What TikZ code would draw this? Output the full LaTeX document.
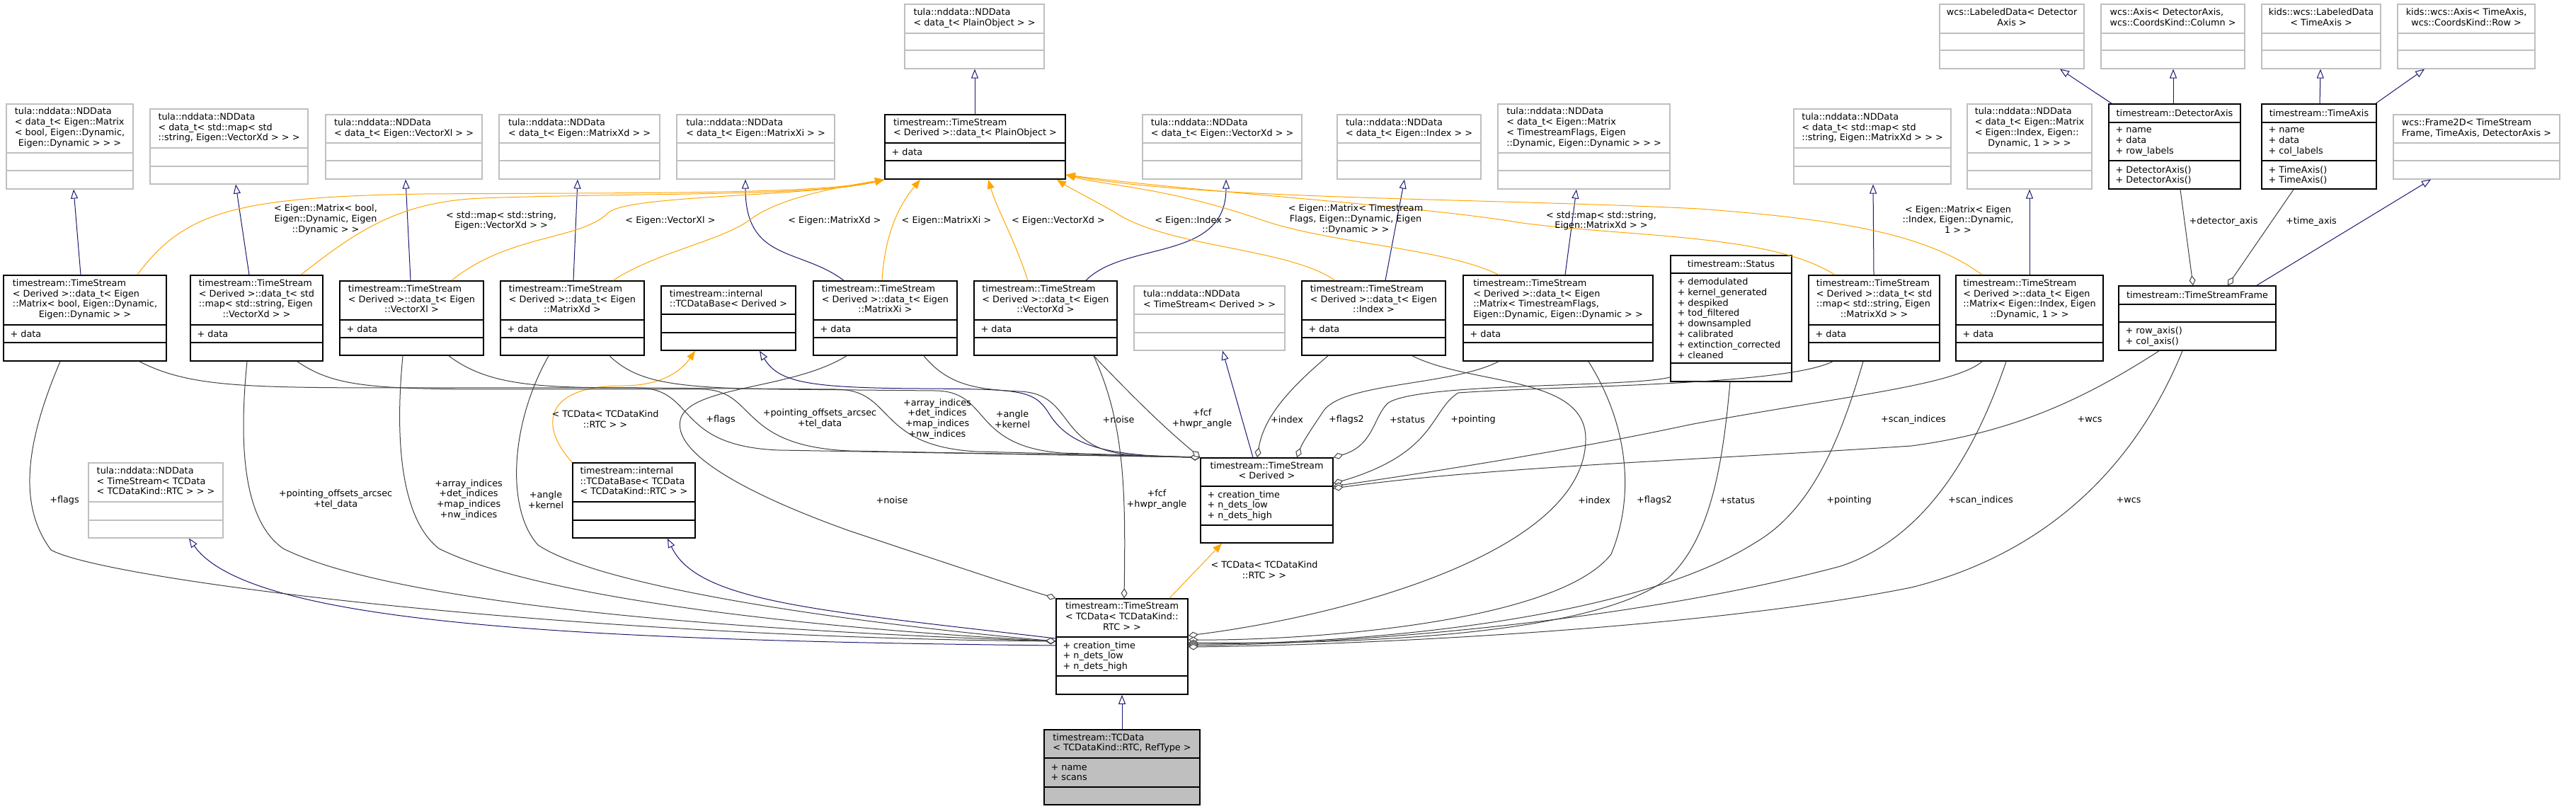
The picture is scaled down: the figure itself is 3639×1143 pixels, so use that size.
\documentclass[tikz,border=0pt]{standalone}
\usepackage{fontspec}
\setmainfont{DejaVu Sans}
\usepackage{xcolor}
\usetikzlibrary{arrows.meta, positioning, fit, calc}

\definecolor{inhblue}{HTML}{191970}
\definecolor{tplorange}{HTML}{FFA500}
\definecolor{usegray}{HTML}{404040}
\definecolor{boxgray}{HTML}{BFBFBF}

\newcommand{\dxfont}{\fontsize{6.4}{7.4}\selectfont}
\newcommand{\clsname}[2]{\begin{tabular}{@{}l@{}}#1\\\multicolumn{1}{@{}c@{}}{#2}\end{tabular}}
\newcommand{\umlclass}[8]{%
    \node[#2, fit={#3}] (#1) {};
    \draw[#2 sep] (#1.west |- 0,#4) -- (#1.east |- 0,#4);
    \draw[#2 sep] (#1.west |- 0,#5) -- (#1.east |- 0,#5);
    \node[titletext] (#1-t) at ($(#1.north)!0.5!(#1.north |- 0,#4)$) {#6};
    \node[membertext] (#1-a) at ($(#1.west |- 0,#4)!0.5!(#1.west |- 0,#5)$) {#7};
    \node[membertext] (#1-m) at ($(#1.west |- 0,#5)!0.5!(#1.south west)$) {#8};
}

\begin{document}
\begin{tikzpicture}[
        x=0.5pt, y=-0.5pt,
        font=\dxfont,
        ndbox/.style={draw=boxgray, line width=0.6pt, fill=white, inner sep=0pt},
        ndbox sep/.style={draw=boxgray, line width=0.6pt},
        clsbox/.style={draw=black, line width=0.8pt, fill=white, inner sep=0pt},
        clsbox sep/.style={draw=black, line width=0.8pt},
        hlbox/.style={clsbox, fill=boxgray},
        hlbox sep/.style={clsbox sep},
        titletext/.style={inner sep=0pt},
        membertext/.style={anchor=west, inner sep=0pt, align=left, xshift=5pt},
        edgelabel/.style={inner sep=0pt, align=center},
        inherit/.style={draw=inhblue, line width=0.5pt,
            -{Triangle[length=6.5pt, width=5pt, fill=white]}},
        templ/.style={draw=tplorange, line width=0.5pt,
            -{Triangle[length=6.5pt, width=5pt, fill=tplorange]}},
        usage/.style={draw=usegray, line width=0.5pt,
            -{Diamond[length=7pt, width=4.5pt, fill=white]}},
    ]

    \fill[white] (0,0) rectangle (3639,1143);
    \useasboundingbox (0,0) rectangle (3639,1143);

    % 1. Top row: external bases
    \umlclass{plainnd}{ndbox}{(1278,6) (1475,97)}{47}{71}
        {\clsname{tula::nddata::NDData}{< data\_t< PlainObject > >}}{}{}
    \umlclass{wcsld}{ndbox}{(2740,6) (2944,97)}{47}{71}
        {\clsname{wcs::LabeledData< Detector}{Axis >}}{}{}
    \umlclass{wcsax}{ndbox}{(2968,6) (3171,97)}{47}{71}
        {\clsname{wcs::Axis< DetectorAxis,}{wcs::CoordsKind::Column >}}{}{}
    \umlclass{kidsld}{ndbox}{(3195,6) (3363,97)}{47}{71}
        {\clsname{kids::wcs::LabeledData}{< TimeAxis >}}{}{}
    \umlclass{kidsax}{ndbox}{(3387,6) (3581,97)}{47}{71}
        {\clsname{kids::wcs::Axis< TimeAxis,}{wcs::CoordsKind::Row >}}{}{}

    % 2. NDData bases of the data_t holders
    \umlclass{ndbool}{ndbox}{(9,147) (188,267)}{216}{241}
        {\clsname{tula::nddata::NDData\\< data\_t< Eigen::Matrix\\< bool, Eigen::Dynamic,}{Eigen::Dynamic > > >}}{}{}
    \umlclass{ndmapvd}{ndbox}{(212,154) (435,260)}{209}{235}
        {\clsname{tula::nddata::NDData\\< data\_t< std::map< std}{::string, Eigen::VectorXd > > >}}{}{}
    \umlclass{ndvl}{ndbox}{(460,162) (681,253)}{202}{227}
        {\clsname{tula::nddata::NDData}{< data\_t< Eigen::VectorXl > >}}{}{}
    \umlclass{ndmd}{ndbox}{(705,162) (932,253)}{202}{227}
        {\clsname{tula::nddata::NDData}{< data\_t< Eigen::MatrixXd > >}}{}{}
    \umlclass{ndmi}{ndbox}{(956,162) (1179,253)}{202}{227}
        {\clsname{tula::nddata::NDData}{< data\_t< Eigen::MatrixXi > >}}{}{}
    \umlclass{tsplain}{clsbox}{(1250,162) (1505,253)}{202}{227}
        {\clsname{timestream::TimeStream}{< Derived >::data\_t< PlainObject >}}{+ data}{}
    \umlclass{ndvd}{ndbox}{(1614,162) (1839,253)}{202}{227}
        {\clsname{tula::nddata::NDData}{< data\_t< Eigen::VectorXd > >}}{}{}
    \umlclass{ndidx}{ndbox}{(1889,162) (2092,253)}{202}{227}
        {\clsname{tula::nddata::NDData}{< data\_t< Eigen::Index > >}}{}{}
    \umlclass{ndflags}{ndbox}{(2116,147) (2359,267)}{216}{241}
        {\clsname{tula::nddata::NDData\\< data\_t< Eigen::Matrix\\< TimestreamFlags, Eigen}{::Dynamic, Eigen::Dynamic > > >}}{}{}
    \umlclass{ndmapmd}{ndbox}{(2534,154) (2756,260)}{209}{235}
        {\clsname{tula::nddata::NDData\\< data\_t< std::map< std}{::string, Eigen::MatrixXd > > >}}{}{}
    \umlclass{ndidx1}{ndbox}{(2779,147) (2955,267)}{216}{241}
        {\clsname{tula::nddata::NDData\\< data\_t< Eigen::Matrix\\< Eigen::Index, Eigen::}{Dynamic, 1 > > >}}{}{}
    \umlclass{detaxis}{clsbox}{(2979,147) (3165,267)}{173}{227}
        {timestream::DetectorAxis}{+ name\\+ data\\+ row\_labels}{+ DetectorAxis()\\+ DetectorAxis()}
    \umlclass{timeaxis}{clsbox}{(3195,147) (3357,267)}{173}{227}
        {timestream::TimeAxis}{+ name\\+ data\\+ col\_labels}{+ TimeAxis()\\+ TimeAxis()}
    \umlclass{wcsframe}{ndbox}{(3381,162) (3616,253)}{202}{227}
        {\clsname{wcs::Frame2D< TimeStream}{Frame, TimeAxis, DetectorAxis >}}{}{}

    % 3. Member types
    \umlclass{tsbool}{clsbox}{(5,389) (235,510)}{459}{484}
        {\clsname{timestream::TimeStream\\< Derived >::data\_t< Eigen\\::Matrix< bool, Eigen::Dynamic,}{Eigen::Dynamic > >}}{+ data}{}
    \umlclass{tsmapvd}{clsbox}{(269,389) (456,510)}{459}{484}
        {\clsname{timestream::TimeStream\\< Derived >::data\_t< std\\::map< std::string, Eigen}{::VectorXd > >}}{+ data}{}
    \umlclass{tsvl}{clsbox}{(480,397) (683,502)}{452}{477}
        {\clsname{timestream::TimeStream\\< Derived >::data\_t< Eigen}{::VectorXl >}}{+ data}{}
    \umlclass{tsmd}{clsbox}{(707,397) (910,502)}{452}{477}
        {\clsname{timestream::TimeStream\\< Derived >::data\_t< Eigen}{::MatrixXd >}}{+ data}{}
    \umlclass{tcbase}{clsbox}{(934,404) (1124,495)}{444}{470}
        {\clsname{timestream::internal}{::TCDataBase< Derived >}}{}{}
    \umlclass{tsmi}{clsbox}{(1149,397) (1352,502)}{452}{477}
        {\clsname{timestream::TimeStream\\< Derived >::data\_t< Eigen}{::MatrixXi >}}{+ data}{}
    \umlclass{tsvd}{clsbox}{(1376,397) (1578,502)}{452}{477}
        {\clsname{timestream::TimeStream\\< Derived >::data\_t< Eigen}{::VectorXd >}}{+ data}{}
    \umlclass{ndtsd}{ndbox}{(1602,404) (1815,495)}{444}{470}
        {\clsname{tula::nddata::NDData}{< TimeStream< Derived > >}}{}{}
    \umlclass{tsidx}{clsbox}{(1839,397) (2042,502)}{452}{477}
        {\clsname{timestream::TimeStream\\< Derived >::data\_t< Eigen}{::Index >}}{+ data}{}
    \umlclass{tsflags}{clsbox}{(2067,389) (2335,510)}{459}{484}
        {\clsname{timestream::TimeStream\\< Derived >::data\_t< Eigen\\::Matrix< TimestreamFlags,}{Eigen::Dynamic, Eigen::Dynamic > >}}{+ data}{}
    \umlclass{status}{clsbox}{(2360,361) (2531,539)}{386}{513}
        {timestream::Status}{+ demodulated\\+ kernel\_generated\\+ despiked\\+ tod\_filtered\\+ downsampled\\+ calibrated\\+ extinction\_corrected\\+ cleaned}{}
    \umlclass{tsmapmd}{clsbox}{(2555,389) (2740,510)}{459}{484}
        {\clsname{timestream::TimeStream\\< Derived >::data\_t< std\\::map< std::string, Eigen}{::MatrixXd > >}}{+ data}{}
    \umlclass{tsidx1}{clsbox}{(2763,389) (2971,510)}{459}{484}
        {\clsname{timestream::TimeStream\\< Derived >::data\_t< Eigen\\::Matrix< Eigen::Index, Eigen}{::Dynamic, 1 > >}}{+ data}{}
    \umlclass{tsframe}{clsbox}{(2993,404) (3215,495)}{430}{455}
        {timestream::TimeStreamFrame}{}{+ row\_axis()\\+ col\_axis()}

    % 4. TimeStream classes
    \umlclass{ndtstc}{ndbox}{(125,654) (315,760)}{709}{735}
        {\clsname{tula::nddata::NDData\\< TimeStream< TCData}{< TCDataKind::RTC > > >}}{}{}
    \umlclass{tcbasetc}{clsbox}{(809,654) (982,760)}{709}{735}
        {\clsname{timestream::internal\\::TCDataBase< TCData}{< TCDataKind::RTC > >}}{}{}
    \umlclass{tsderived}{clsbox}{(1696,647) (1883,767)}{687}{742}
        {\clsname{timestream::TimeStream}{< Derived >}}{+ creation\_time\\+ n\_dets\_low\\+ n\_dets\_high}{}
    \umlclass{tstc}{clsbox}{(1492,846) (1678,981)}{900}{955}
        {\clsname{timestream::TimeStream\\< TCData< TCDataKind::}{RTC > >}}{+ creation\_time\\+ n\_dets\_low\\+ n\_dets\_high}{}
    \umlclass{tcdata}{hlbox}{(1475,1031) (1695,1137)}{1071}{1112}
        {\clsname{timestream::TCData}{< TCDataKind::RTC, RefType >}}{+ name\\+ scans}{}

    % --- Inheritance ---
    \draw[inherit] (tsplain.north -| 1377,0) -- (plainnd.south -| 1377,0);
    \draw[inherit] (tsbool.north -| 114,0) -- (ndbool.south -| 104,0);
    \draw[inherit] (tsmapvd.north -| 352,0) -- (ndmapvd.south -| 333,0);
    \draw[inherit] (tsvl.north -| 580,0) -- (ndvl.south -| 573,0);
    \draw[inherit] (tsmd.north -| 810,0) -- (ndmd.south -| 816,0);
    \draw[inherit] (tsmi.north -| 1192,0) .. controls (1130,350) and (1053,370) .. (ndmi.south -| 1053,0);
    \draw[inherit] (tsvd.north -| 1534,0) .. controls (1590,340) and (1732,370) .. (ndvd.south -| 1732,0);
    \draw[inherit] (tsidx.north -| 1957,0) -- (ndidx.south -| 1984,0);
    \draw[inherit] (tsflags.north -| 2211,0) -- (ndflags.south -| 2227,0);
    \draw[inherit] (tsmapmd.north -| 2647,0) -- (ndmapmd.south -| 2646,0);
    \draw[inherit] (tsidx1.north -| 2867,0) -- (ndidx1.south -| 2867,0);
    \draw[inherit] (detaxis.north -| 2983,0) -- (wcsld.south -| 2910,0);
    \draw[inherit] (detaxis.north -| 3070,0) -- (wcsax.south -| 3070,0);
    \draw[inherit] (timeaxis.north -| 3277,0) -- (kidsld.south -| 3278,0);
    \draw[inherit] (timeaxis.north -| 3356,0) -- (kidsax.south -| 3425,0);
    \draw[inherit] (tsframe.north -| 3188,0) -- (wcsframe.south -| 3434,0);
    \draw[inherit] (tsderived.north -| 1770,0) -- (ndtsd.south -| 1727,0);
    \draw[inherit] (tsderived.north west) .. controls (1560,645) and (1510,630) .. (1481,583)
        .. controls (1460,550) and (1440,550) .. (1300,549)
        .. controls (1140,548) and (1100,540) .. (tcbase.south -| 1073,0);
    \draw[inherit] (tstc.west |- 0,912) .. controls (800,905) and (350,880) .. (ndtstc.south -| 267,0);
    \draw[inherit] (tstc.west |- 0,902) .. controls (1150,862) and (985,850) .. (tcbasetc.south -| 943,0);
    \draw[inherit] (tcdata.north -| 1585,0) -- (tstc.south -| 1585,0);

    % --- Template instances ---
    \draw[templ] (tsbool.north -| 194,0) .. controls (260,300) and (330,278) .. (600,274)
        .. controls (900,272) and (1150,275) .. (tsplain.south west);
    \draw[templ] (tsmapvd.north -| 425,0) .. controls (500,330) and (560,285) .. (680,280)
        .. controls (900,272) and (1150,278) .. (tsplain.south west);
    \draw[templ] (tsvl.north -| 638,0) .. controls (720,330) and (820,340) .. (860,300)
        .. controls (890,275) and (1150,278) .. (tsplain.south west);
    \draw[templ] (tsmd.north -| 866,0) .. controls (930,355) and (1020,340) .. (1060,310)
        .. controls (1100,280) and (1180,265) .. (tsplain.south west);
    \draw[templ] (tsmi.north -| 1246,0) .. controls (1250,330) and (1270,290) .. (tsplain.south -| 1300,0);
    \draw[templ] (tsvd.north -| 1452,0) .. controls (1430,330) and (1410,300) .. (tsplain.south -| 1396,0);
    \draw[templ] (tsidx.north -| 1886,0) .. controls (1820,350) and (1650,350) .. (1575,300)
        .. controls (1540,280) and (1510,265) .. (tsplain.south -| 1493,0);
    \draw[templ] (tsflags.north -| 2117,0) .. controls (2040,350) and (1880,345) .. (1780,310)
        .. controls (1650,265) and (1560,262) .. (tsplain.east |- 0,247);
    \draw[templ] (tsmapmd.north -| 2592,0) .. controls (2500,330) and (2300,335) .. (2150,315)
        .. controls (2000,290) and (1700,272) .. (tsplain.east |- 0,247);
    \draw[templ] (tsidx1.north -| 2800,0) .. controls (2720,330) and (2600,310) .. (2400,295)
        .. controls (2100,280) and (1700,282) .. (tsplain.east |- 0,247);
    \draw[templ] (tcbasetc.north west) .. controls (760,600) and (770,545) .. (880,545)
        .. controls (940,545) and (965,520) .. (tcbase.south -| 982,0);
    \draw[templ] (tstc.north -| 1652,0) -- (tsderived.south -| 1726,0);

    \node[edgelabel] (lt-bool) at (460,310) {< Eigen::Matrix< bool,\\Eigen::Dynamic, Eigen\\::Dynamic > >};
    \node[edgelabel] (lt-mapvd) at (708,312) {< std::map< std::string,\\Eigen::VectorXd > >};
    \node[edgelabel] (lt-vl) at (947,312) {< Eigen::VectorXl >};
    \node[edgelabel] (lt-md) at (1179,312) {< Eigen::MatrixXd >};
    \node[edgelabel] (lt-mi) at (1337,312) {< Eigen::MatrixXi >};
    \node[edgelabel] (lt-vd) at (1495,312) {< Eigen::VectorXd >};
    \node[edgelabel] (lt-idx) at (1686,312) {< Eigen::Index >};
    \node[edgelabel] (lt-flags) at (1915,310) {< Eigen::Matrix< Timestream\\Flags, Eigen::Dynamic, Eigen\\::Dynamic > >};
    \node[edgelabel] (lt-mapmd) at (2262,312) {< std::map< std::string,\\Eigen::MatrixXd > >};
    \node[edgelabel] (lt-idx1) at (2766,310) {< Eigen::Matrix< Eigen\\::Index, Eigen::Dynamic,\\1 > >};
    \node[edgelabel] (lt-tcbase) at (855,592) {< TCData< TCDataKind\\::RTC > >};
    \node[edgelabel] (lt-tstc) at (1786,805) {< TCData< TCDataKind\\::RTC > >};

    % --- Members of TimeStream< Derived > ---
    \draw[usage] (tsbool.south -| 197,0) .. controls (270,548) and (350,548) .. (600,548) -- (900,548)
        .. controls (985,548) and (950,630) .. (1100,636) -- (tsderived.north west);
    \draw[usage] (tsmapvd.south -| 420,0) .. controls (470,545) and (520,550) .. (700,550) -- (990,550)
        .. controls (1070,550) and (1040,630) .. (1200,637) -- (tsderived.north west);
    \draw[usage] (tsvl.south -| 634,0) .. controls (690,545) and (760,548) .. (900,548) -- (1180,550)
        .. controls (1265,550) and (1235,630) .. (1380,638) -- (tsderived.north west);
    \draw[usage] (tsmd.south -| 861,0) .. controls (900,540) and (950,548) .. (1100,550) -- (1320,552)
        .. controls (1400,552) and (1370,630) .. (1500,640) -- (tsderived.north west);
    \draw[usage] (tsmi.south -| 1305,0) .. controls (1340,545) and (1380,550) .. (1440,553)
        .. controls (1520,556) and (1490,635) .. (1600,643) -- (tsderived.north west);
    \draw[usage] (tsvd.south -| 1545,0) .. controls (1600,560) and (1640,600) .. (tsderived.north west);
    \draw[usage] (tsidx.south -| 1876,0) .. controls (1820,550) and (1785,590) .. (tsderived.north -| 1776,0);
    \draw[usage] (tsflags.south -| 2117,0) .. controls (2050,545) and (1900,540) .. (1870,580)
        .. controls (1850,610) and (1840,625) .. (tsderived.north -| 1832,0);
    \draw[usage] (status.west |- 0,533) .. controls (2300,548) and (2000,540) .. (1960,570)
        .. controls (1940,590) and (1940,630) .. (tsderived.north east);
    \draw[usage] (tsmapmd.south -| 2589,0) .. controls (2520,545) and (2200,545) .. (2060,555)
        .. controls (2020,580) and (2030,640) .. (tsderived.east |- 0,683);
    \draw[usage] (tsidx1.south -| 2800,0) .. controls (2760,545) and (2600,560) .. (2387,600)
        .. controls (2200,640) and (2000,670) .. (tsderived.east |- 0,687);
    \draw[usage] (tsframe.south -| 3050,0) .. controls (2950,560) and (2850,610) .. (2700,630)
        .. controls (2400,650) and (2100,660) .. (tsderived.east |- 0,690);

    \node[edgelabel] (ld-flags) at (1018,593) {+flags};
    \node[edgelabel] (ld-offsets) at (1158,592) {+pointing\_offsets\_arcsec\\+tel\_data};
    \node[edgelabel] (ld-array) at (1324,592) {+array\_indices\\+det\_indices\\+map\_indices\\+nw\_indices};
    \node[edgelabel] (ld-angle) at (1430,592) {+angle\\+kernel};
    \node[edgelabel] (ld-noise) at (1580,593) {+noise};
    \node[edgelabel] (ld-fcf) at (1698,592) {+fcf\\+hwpr\_angle};
    \node[edgelabel] (ld-index) at (1818,593) {+index};
    \node[edgelabel] (ld-flags2) at (1902,593) {+flags2};
    \node[edgelabel] (ld-status) at (1988,593) {+status};
    \node[edgelabel] (ld-pointing) at (2081,593) {+pointing};
    \node[edgelabel] (ld-scan) at (2703,593) {+scan\_indices};
    \node[edgelabel] (ld-wcs) at (2952,593) {+wcs};

    % --- Members of TimeStream< TCData< TCDataKind::RTC > > ---
    \draw[usage] (tsbool.south -| 85,0) .. controls (30,640) and (30,720) .. (72,777)
        .. controls (150,820) and (800,900) .. (tstc.west |- 0,906);
    \draw[usage] (tsmapvd.south -| 349,0) .. controls (335,650) and (350,740) .. (400,775)
        .. controls (550,850) and (1000,890) .. (tstc.west |- 0,906);
    \draw[usage] (tsvl.south -| 569,0) .. controls (555,650) and (575,740) .. (620,775)
        .. controls (750,840) and (1100,885) .. (tstc.west |- 0,906);
    \draw[usage] (tsmd.south -| 775,0) .. controls (720,600) and (715,720) .. (760,770)
        .. controls (850,830) and (1200,880) .. (tstc.west |- 0,906);
    \draw[usage] (tsmi.south -| 1196,0) .. controls (1120,550) and (980,545) .. (962,590)
        .. controls (945,640) and (1060,700) .. (1200,750)
        .. controls (1350,800) and (1440,830) .. (tstc.north west);
    \draw[usage] (tsvd.south -| 1545,0) .. controls (1590,600) and (1590,700) .. (tstc.north -| 1588,0);
    \draw[usage] (tsidx.south -| 1995,0) .. controls (2080,545) and (2240,530) .. (2240,620)
        .. controls (2240,780) and (1900,870) .. (tstc.east |- 0,898);
    \draw[usage] (tsflags.south -| 2244,0) .. controls (2300,600) and (2310,700) .. (2276,783)
        .. controls (2200,880) and (1850,905) .. (tstc.east |- 0,904);
    \draw[usage] (status.south -| 2444,0) .. controls (2435,640) and (2420,760) .. (2356,817)
        .. controls (2250,900) and (1900,910) .. (tstc.east |- 0,908);
    \draw[usage] (tsmapmd.south -| 2632,0) .. controls (2600,620) and (2560,720) .. (2479,767)
        .. controls (2300,880) and (1900,910) .. (tstc.east |- 0,910);
    \draw[usage] (tsidx1.south -| 2834,0) .. controls (2790,640) and (2720,760) .. (2600,800)
        .. controls (2300,880) and (1900,910) .. (tstc.east |- 0,912);
    \draw[usage] (tsframe.south -| 3083,0) .. controls (3020,650) and (2900,780) .. (2700,830)
        .. controls (2400,890) and (1900,912) .. (tstc.east |- 0,914);

    \node[edgelabel] (lc-flags) at (91,707) {+flags};
    \node[edgelabel] (lc-offsets) at (474,706) {+pointing\_offsets\_arcsec\\+tel\_data};
    \node[edgelabel] (lc-array) at (662,706) {+array\_indices\\+det\_indices\\+map\_indices\\+nw\_indices};
    \node[edgelabel] (lc-angle) at (771,706) {+angle\\+kernel};
    \node[edgelabel] (lc-noise) at (1260,707) {+noise};
    \node[edgelabel] (lc-fcf) at (1634,706) {+fcf\\+hwpr\_angle};
    \node[edgelabel] (lc-index) at (2252,707) {+index};
    \node[edgelabel] (lc-flags2) at (2337,707) {+flags2};
    \node[edgelabel] (lc-status) at (2454,707) {+status};
    \node[edgelabel] (lc-pointing) at (2612,707) {+pointing};
    \node[edgelabel] (lc-scan) at (2798,707) {+scan\_indices};
    \node[edgelabel] (lc-wcs) at (3007,707) {+wcs};

    % --- Members of TimeStreamFrame ---
    \draw[usage] (detaxis.south -| 3080,0) -- (tsframe.north -| 3098,0);
    \draw[usage] (timeaxis.south -| 3240,0) -- (tsframe.north -| 3147,0);
    \node[edgelabel] (lf-det) at (3141,313) {+detector\_axis};
    \node[edgelabel] (lf-time) at (3265,313) {+time\_axis};

\end{tikzpicture}
\end{document}
